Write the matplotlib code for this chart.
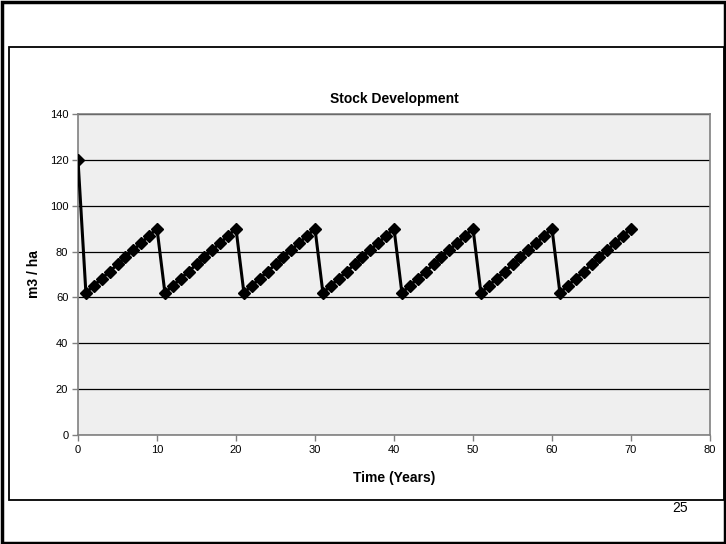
import matplotlib.pyplot as plt
from matplotlib.patches import Rectangle

years = list(range(0, 71))
stock = [120.0,
         62.0, 65.1, 68.2, 71.3, 74.4, 77.6, 80.7, 83.8, 86.9, 90.0,
         62.0, 65.1, 68.2, 71.3, 74.4, 77.6, 80.7, 83.8, 86.9, 90.0,
         62.0, 65.1, 68.2, 71.3, 74.4, 77.6, 80.7, 83.8, 86.9, 90.0,
         62.0, 65.1, 68.2, 71.3, 74.4, 77.6, 80.7, 83.8, 86.9, 90.0,
         62.0, 65.1, 68.2, 71.3, 74.4, 77.6, 80.7, 83.8, 86.9, 90.0,
         62.0, 65.1, 68.2, 71.3, 74.4, 77.6, 80.7, 83.8, 86.9, 90.0,
         62.0, 65.1, 68.2, 71.3, 74.4, 77.6, 80.7, 83.8, 86.9, 90.0]
x_ticks = [0, 10, 20, 30, 40, 50, 60, 70, 80]
y_ticks = [0, 20, 40, 60, 80, 100, 120, 140]

plt.rcParams['font.family'] = ['Liberation Sans', 'DejaVu Sans']

W, H = 726, 544
fig = plt.figure(figsize=(W / 100, H / 100), dpi=100)

# slide frame and chart frame
fig.patches.append(Rectangle((1.5 / W, 1.5 / H), (W - 3) / W, (H - 3) / H,
                             transform=fig.transFigure, fill=False,
                             edgecolor='black', linewidth=2.5))
fig.patches.append(Rectangle((8.5 / W, 1 - 500 / H), (724 - 8.5) / W, (500 - 47) / H,
                             transform=fig.transFigure, fill=False,
                             edgecolor='black', linewidth=1.3))

ax = fig.add_axes([78 / W, 1 - 435 / H, (710 - 78) / W, (435 - 114) / H])
ax.set_facecolor('#efefef')

ax.plot(years, stock, color='black', linewidth=2.2, marker='D',
        markersize=6, markerfacecolor='black', markeredgecolor='black',
        zorder=3)

ax.set_xlim(0, 80)
ax.set_ylim(0, 140)
ax.set_xticks(x_ticks)
ax.set_yticks(y_ticks)
ax.yaxis.grid(True, color='black', linewidth=0.9)
ax.set_axisbelow(True)
ax.tick_params(axis='both', direction='out', length=4, width=1,
               color='#808080', labelsize=8, pad=3)

for side in ['left', 'bottom', 'right', 'top']:
    ax.spines[side].set_color('#808080')
    ax.spines[side].set_linewidth(1.2)

ax.set_title('Stock Development', fontsize=10, fontweight='bold', pad=8)
ax.set_xlabel('Time (Years)', fontsize=10, fontweight='bold', labelpad=12)
ax.set_ylabel('m3 / ha', fontsize=10, fontweight='bold', labelpad=6)

fig.text(680 / W, 1 - 508 / H, '25', fontsize=10, ha='center', va='center')

fig.savefig('out.png', dpi=100)
